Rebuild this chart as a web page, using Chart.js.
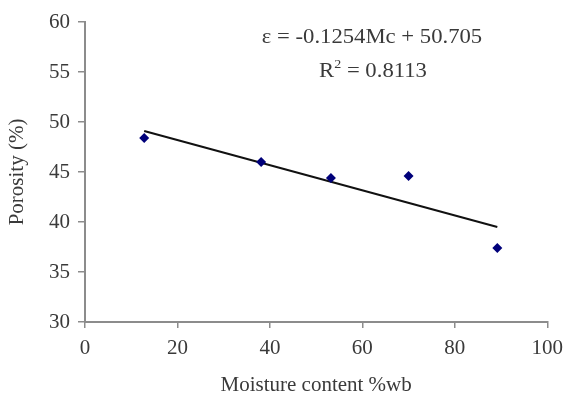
<!DOCTYPE html>
<html>
<head>
  <title>Porosity vs moisture content</title>
  <script src="https://cdn.jsdelivr.net/npm/chart.js"></script>
  <style>
    html, body { margin: 0; padding: 0; background: #fff; }
    #wrap { width: 571px; height: 400px; }
  </style>
</head>
<body>
  <div id="wrap">
    <canvas id="porosityChart" width="571" height="400"></canvas>
  </div>

  <script>
    // values
    const moisture = [12.8, 38.1, 53.2, 70.0, 89.2];
    const porosity = [48.4, 46.0, 44.4, 44.6, 37.4];
    const trendX = [12.8, 89.2];
    const trendY = [49.1, 39.5];
    const xTicks = [0, 20, 40, 60, 80, 100];
    const yTicks = [30, 35, 40, 45, 50, 55, 60];
    const eqLine = 'ε = -0.1254Mc + 50.705';
    const r2Value = '0.8113';

    const serif = '"Liberation Serif", "Times New Roman", serif';
    const axisGray = '#8c8c8c';
    const textCol = '#3a3a3a';

    // equation + R² text in the upper right (slightly widened like the original)
    const equationText = {
      id: 'equationText',
      afterDraw(chart) {
        const ctx = chart.ctx;
        const sx = 1.08;
        ctx.save();
        ctx.scale(sx, 1);
        ctx.fillStyle = textCol;
        ctx.font = '21px ' + serif;
        ctx.textBaseline = 'alphabetic';
        ctx.textAlign = 'center';
        ctx.fillText(eqLine, 372 / sx, 43);

        // R² line, superscript by hand
        const rest = ' = ' + r2Value;
        const wR = ctx.measureText('R').width;
        ctx.font = '13px ' + serif;
        const wSup = ctx.measureText('2').width;
        ctx.font = '21px ' + serif;
        const wRest = ctx.measureText(rest).width;
        let x = 373 / sx - (wR + wSup + wRest) / 2;
        ctx.textAlign = 'left';
        ctx.fillText('R', x, 77);
        x += wR;
        ctx.font = '13px ' + serif;
        ctx.fillText('2', x, 68);
        x += wSup;
        ctx.font = '21px ' + serif;
        ctx.fillText(rest, x, 77);
        ctx.restore();
      }
    };

    const ctx = document.getElementById('porosityChart').getContext('2d');
    new Chart(ctx, {
      type: 'scatter',
      data: {
        datasets: [{
          label: 'Porosity',
          data: moisture.map((m, i) => ({ x: m, y: porosity[i] })),
          pointStyle: 'rectRot',
          pointRadius: 5,
          pointHoverRadius: 5,
          backgroundColor: '#00007a',
          borderColor: '#00007a',
          borderWidth: 0
        }, {
          label: 'Linear',
          data: trendX.map((m, i) => ({ x: m, y: trendY[i] })),
          showLine: true,
          borderColor: '#111',
          borderWidth: 2,
          pointRadius: 0,
          fill: false
        }]
      },
      options: {
        responsive: false,
        animation: false,
        events: [],
        layout: { padding: { left: 0, right: 18, top: 22, bottom: 0 } },
        plugins: {
          legend: { display: false },
          tooltip: { enabled: false }
        },
        scales: {
          x: {
            type: 'linear',
            min: 0,
            max: 100,
            afterBuildTicks: axis => { axis.ticks = xTicks.map(v => ({ value: v })); },
            afterFit: axis => { axis.height = 78; },
            grid: { display: true, drawOnChartArea: false, drawTicks: true, tickLength: 6, color: axisGray, lineWidth: 1.5 },
            border: { display: true, color: axisGray, width: 2 },
            ticks: { color: textCol, font: { family: serif, size: 21 }, padding: 8, maxRotation: 0 },
            title: { display: true, text: 'Moisture content %wb', color: textCol, font: { family: serif, size: 21 }, padding: { top: 4, bottom: 2 } }
          },
          y: {
            type: 'linear',
            min: 30,
            max: 60,
            afterBuildTicks: axis => { axis.ticks = yTicks.map(v => ({ value: v })); },
            afterFit: axis => { axis.width = 85; },
            grid: { display: true, drawOnChartArea: false, drawTicks: true, tickLength: 7, color: axisGray, lineWidth: 1.5 },
            border: { display: true, color: axisGray, width: 2 },
            ticks: { color: textCol, font: { family: serif, size: 21 }, padding: 8 },
            title: { display: true, text: 'Porosity (%)', color: textCol, font: { family: serif, size: 21 }, padding: { top: 5, bottom: 4 } }
          }
        }
      },
      plugins: [equationText]
    });
  </script>
</body>
</html>
